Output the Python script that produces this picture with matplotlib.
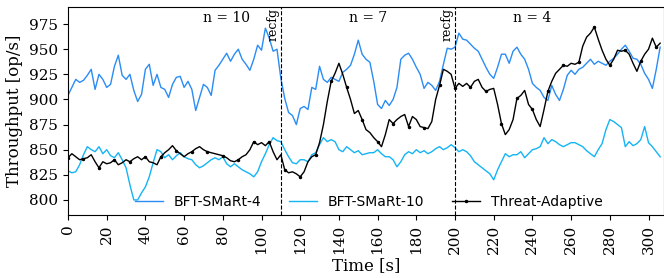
import numpy as np
import matplotlib
matplotlib.use('Agg')
import matplotlib.pyplot as plt

# throughput samples, one every 2 s
bft_smart_4 = [
    904, 912, 920, 917, 919, 924, 930, 910, 925, 920,
    912, 915, 933, 944, 924, 920, 925, 909, 898, 905,
    930, 935, 914, 925, 912, 910, 902, 915, 922, 923,
    912, 918, 910, 889, 902, 915, 912, 904, 929, 934,
    940, 946, 938, 945, 950, 940, 935, 929, 940, 954,
    949, 971, 961, 948, 950, 921, 901, 887, 884, 875,
    891, 893, 890, 912, 910, 933, 920, 917, 922, 920,
    918, 927, 930, 934, 945, 959, 945, 940, 937, 918,
    895, 891, 899, 894, 900, 912, 940, 944, 946, 940,
    932, 925, 911, 917, 914, 909, 918, 935, 951, 950,
    952, 966, 960, 959, 955, 951, 948, 940, 932, 925,
    921, 932, 945, 945, 936, 948, 952, 945, 940, 930,
    916, 912, 909, 902, 899, 914, 905, 899, 910, 924,
    929, 925, 930, 932, 936, 940, 935, 938, 936, 934,
    938, 941, 945, 950, 954, 948, 941, 940, 935, 926,
    920, 911, 930, 952,
]
bft_smart_10 = [
    829, 827, 828, 835, 845, 853, 850, 848, 853, 846,
    850, 844, 842, 847, 840, 832, 815, 800, 800, 807,
    813, 823, 837, 850, 848, 842, 845, 840, 844, 847,
    843, 841, 840, 835, 832, 834, 837, 840, 842, 840,
    843, 836, 833, 836, 833, 830, 828, 826, 823, 828,
    838, 846, 855, 862, 859, 858, 850, 843, 837, 836,
    840, 840, 838, 845, 847, 855, 862, 858, 860, 858,
    850, 848, 853, 850, 847, 849, 845, 846, 847, 847,
    850, 846, 843, 843, 840, 833, 838, 845, 848, 846,
    850, 847, 849, 846, 848, 851, 853, 850, 852, 855,
    852, 848, 850, 848, 844, 838, 835, 832, 829, 826,
    820, 830, 838, 846, 843, 845, 845, 848, 842, 846,
    850, 851, 853, 862, 856, 860, 858, 855, 853, 855,
    857, 857, 855, 853, 849, 846, 843, 850, 856, 870,
    880, 878, 875, 872, 853, 858, 854, 856, 860, 873,
    857, 853, 848, 843,
]
threat_adaptive = [
    842, 846, 843, 840, 841, 842, 845, 838, 832, 838,
    836, 837, 840, 835, 837, 840, 838, 841, 843, 840,
    843, 838, 837, 835, 843, 847, 850, 854, 849, 846,
    843, 846, 848, 851, 853, 850, 848, 847, 846, 845,
    844, 842, 839, 838, 840, 843, 845, 850, 858, 855,
    857, 854, 858, 848, 840, 845, 830, 827, 828, 826,
    823, 828, 838, 843, 845, 857, 875, 898, 918, 926,
    936, 925, 912, 900, 886, 889, 880, 870, 867, 862,
    858, 853, 865, 880, 876, 880, 883, 885, 873, 883,
    880, 873, 872, 871, 878, 900, 914, 930, 928, 925,
    911, 916, 913, 916, 912, 918, 920, 912, 908, 910,
    911, 895, 876, 865, 870, 880, 901, 904, 909, 895,
    890, 880, 873, 890, 908, 918, 926, 930, 934, 933,
    936, 935, 937, 953, 962, 966, 972, 960, 949, 940,
    934, 940, 949, 948, 949, 945, 936, 928, 938, 945,
    950, 961, 952, 956,
]
t = np.arange(len(threat_adaptive)) * 2

reconfigs = [110, 200]
phase_labels = ['n = 10', 'n = 7', 'n = 4']
phase_pos = [82, 155, 240]

fig = plt.figure(figsize=(6.64, 2.78), dpi=100)
ax = fig.add_axes([0.1024, 0.2266, 0.8976, 0.7482])

ax.plot(t, bft_smart_4, color='#2a8cf5', lw=1.0, label='BFT-SMaRt-4')
ax.plot(t, bft_smart_10, color='#14b4f5', lw=1.0, label='BFT-SMaRt-10')
ax.plot(t, threat_adaptive, color='black', lw=1.0, marker='.', ms=3,
        markevery=4, label='Threat-Adaptive')

for r in reconfigs:
    ax.axvline(r, color='black', ls='--', lw=0.8)
    ax.text(r - 0.5, 991, 'recfg', rotation=90, ha='right', va='top',
            family='DejaVu Serif', fontsize=9)
for lab, x in zip(phase_labels, phase_pos):
    ax.text(x, 981, lab, ha='center', va='center', family='DejaVu Serif', fontsize=10)

ax.set_xlim(0, 308)
ax.set_ylim(785, 992)
ax.set_xticks(range(0, 301, 20))
ax.set_yticks(range(800, 976, 25))
for lbl in ax.get_xticklabels() + ax.get_yticklabels():
    lbl.set_family('DejaVu Serif')
    lbl.set_fontsize(11)
for lbl in ax.get_xticklabels():
    lbl.set_rotation(90)
ax.set_xlabel('Time [s]', family='DejaVu Serif', fontsize=12, labelpad=2)
ax.set_ylabel('Throughput [op/s]', family='DejaVu Serif', fontsize=12, labelpad=4)

ax.legend(loc='lower center', ncol=3, frameon=False, fontsize=10,
          bbox_to_anchor=(0.505, -0.03), columnspacing=2.0)

fig.savefig('out.png', dpi=100)
